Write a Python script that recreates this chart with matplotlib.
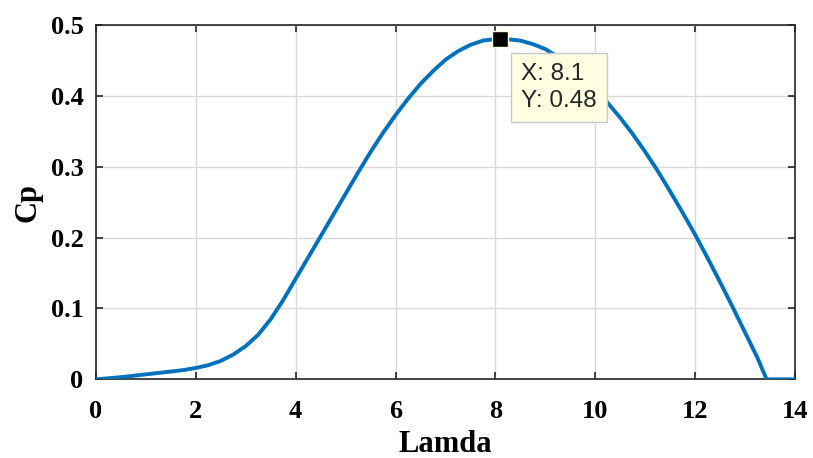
import matplotlib
matplotlib.use("Agg")
import matplotlib.pyplot as plt

# Cp vs tip speed ratio
lamda = [0, 0.5, 1, 1.5, 1.75, 2, 2.25, 2.5, 2.75, 3, 3.25, 3.5, 3.75,
         4, 4.25, 4.5, 4.75, 5, 5.25, 5.5, 5.75, 6, 6.25, 6.5, 6.75,
         7, 7.25, 7.5, 7.75, 8.1, 8.5, 8.75, 9, 9.25, 9.5, 9.75, 10,
         10.25, 10.5, 10.75, 11, 11.25, 11.5, 11.75, 12, 12.25, 12.5,
         12.75, 13, 13.25, 13.43, 14]
cp = [0, 0.003, 0.007, 0.011, 0.013, 0.016, 0.02, 0.026, 0.035, 0.047,
      0.063, 0.085, 0.112, 0.142, 0.172, 0.202, 0.232, 0.262, 0.292, 0.321,
      0.348, 0.373, 0.396, 0.417, 0.435, 0.451, 0.463, 0.472, 0.478, 0.481,
      0.478, 0.473, 0.466, 0.455, 0.442, 0.427, 0.41, 0.39, 0.369, 0.346,
      0.321, 0.294, 0.265, 0.235, 0.204, 0.171, 0.137, 0.102, 0.066, 0.03,
      0, 0]

peak_x = 8.1
peak_y = 0.48

x_ticks = [0, 2, 4, 6, 8, 10, 12, 14]
y_ticks = [0, 0.1, 0.2, 0.3, 0.4, 0.5]
y_tick_labels = ["0", "0.1", "0.2", "0.3", "0.4", "0.5"]

fig = plt.figure(figsize=(8.13, 4.58), dpi=100)
ax = fig.add_axes([0.1181, 0.1718, 0.8598, 0.7736])

ax.plot(lamda, cp, color="#0072BD", linewidth=2.8, zorder=3,
        solid_joinstyle="round")

ax.set_xlim(0, 14)
ax.set_ylim(0, 0.5)
ax.set_xticks(x_ticks)
ax.set_yticks(y_ticks)
ax.set_yticklabels(y_tick_labels)
ax.grid(True, color="#d9d9d9", linewidth=1.0)
ax.set_axisbelow(True)

serif = {"family": "Liberation Serif", "weight": "bold"}
for lab in ax.get_xticklabels() + ax.get_yticklabels():
    lab.set_fontfamily("Liberation Serif")
    lab.set_fontweight("bold")
    lab.set_fontsize(19)

ax.tick_params(direction="in", top=True, right=True, length=5, width=1.2,
               color="#262626")
ax.tick_params(axis="x", pad=15)
ax.tick_params(axis="y", pad=9)
for s in ax.spines.values():
    s.set_color("#262626")
    s.set_linewidth(1.2)

ax.set_xlabel("Lamda", fontdict=serif, fontsize=22, labelpad=5)
ax.set_ylabel("Cp", fontdict=serif, fontsize=22, labelpad=6)

# data tip
ax.plot([peak_x], [peak_y], marker="s", markersize=12, color="black",
        markeredgecolor="#FFFFE1", markeredgewidth=1, zorder=5, clip_on=False)
ax.annotate(f"X: {peak_x}\nY: {peak_y}", xy=(peak_x, peak_y),
            xytext=(15, -17), textcoords="offset points",
            ha="left", va="top", fontsize=17.5, family="Liberation Sans",
            color="#262626", linespacing=1.3, zorder=6,
            bbox=dict(boxstyle="square,pad=0.42", facecolor="#FFFFE1",
                      edgecolor="#c8c8c8", linewidth=1))

fig.savefig("out.png", dpi=100)
